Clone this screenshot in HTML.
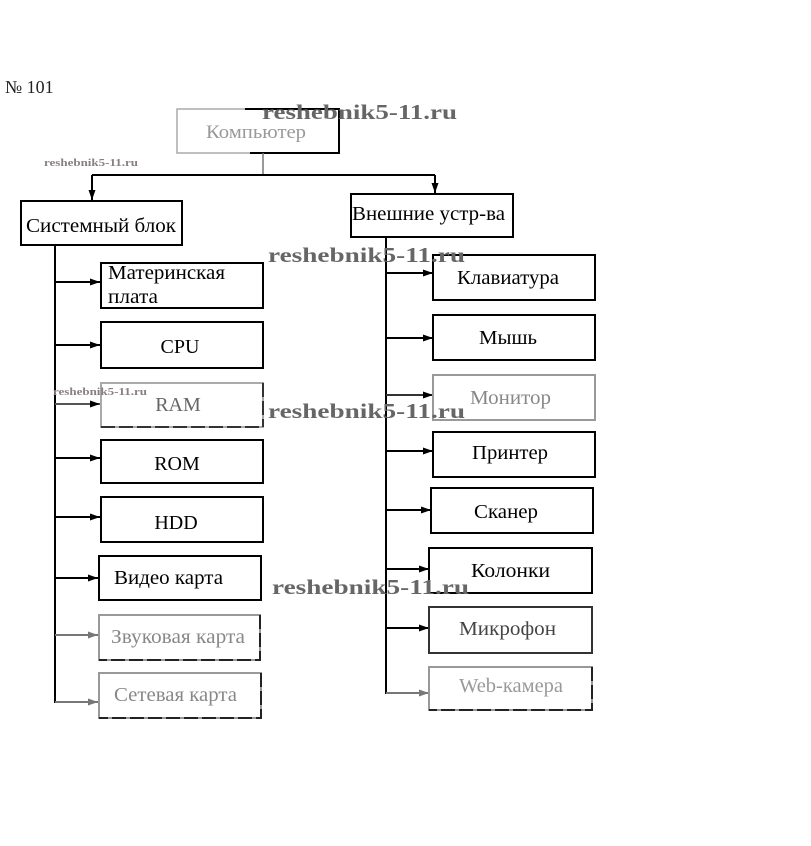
<!DOCTYPE html>
<html><head><meta charset="utf-8"><style>
html,body{margin:0;padding:0;background:#fff;}
svg{display:block;}
text{font-family:"Liberation Serif","DejaVu Serif",serif;}
</style></head><body>
<svg width="811" height="846" viewBox="0 0 811 846" xmlns="http://www.w3.org/2000/svg">
<defs>
<marker id="a" markerWidth="10" markerHeight="8" refX="10" refY="4" orient="auto" markerUnits="userSpaceOnUse">
<path d="M0,0.5 L10,4 L0,7.5 z" fill="#000"/></marker>
<marker id="ag" markerWidth="10" markerHeight="8" refX="10" refY="4" orient="auto" markerUnits="userSpaceOnUse">
<path d="M0,0.5 L10,4 L0,7.5 z" fill="#777"/></marker>
</defs>
<rect width="811" height="846" fill="#fff"/>
<text x="5" y="93" font-size="18" fill="#222">№ 101</text>

<!-- Computer box -->
<rect x="177" y="109" width="162" height="44" fill="none" stroke="#aaa" stroke-width="1.5"/>
<path d="M245 109 H339 V153 H250" fill="none" stroke="#000" stroke-width="2"/>
<text x="206" y="138" font-size="19" fill="#999" textLength="100" lengthAdjust="spacingAndGlyphs">Компьютер</text>
<line x1="263" y1="153" x2="263" y2="175" stroke="#777" stroke-width="1.5"/>
<line x1="92" y1="175" x2="435" y2="175" stroke="#000" stroke-width="2"/>
<line x1="92" y1="175" x2="92" y2="200" stroke="#000" stroke-width="2" marker-end="url(#a)"/>
<line x1="435" y1="175" x2="435" y2="193" stroke="#000" stroke-width="2" marker-end="url(#a)"/>

<!-- Top level boxes -->
<rect x="21" y="201" width="161" height="44" fill="#fff" stroke="#000" stroke-width="2"/>
<text x="26" y="232" font-size="20" textLength="150" lengthAdjust="spacingAndGlyphs">Системный блок</text>
<rect x="351" y="194" width="162" height="43" fill="#fff" stroke="#000" stroke-width="2"/>
<text x="352" y="220" font-size="20" textLength="153" lengthAdjust="spacingAndGlyphs">Внешние устр-ва</text>

<!-- Left trunk -->
<line x1="55" y1="245" x2="55" y2="703" stroke="#000" stroke-width="2"/>
<g stroke-width="2">
<line x1="55" y1="282" x2="100" y2="282" stroke="#000" marker-end="url(#a)"/>
<line x1="55" y1="345" x2="100" y2="345" stroke="#000" marker-end="url(#a)"/>
<line x1="55" y1="404" x2="100" y2="404" stroke="#555" marker-end="url(#a)"/>
<line x1="55" y1="458" x2="100" y2="458" stroke="#000" marker-end="url(#a)"/>
<line x1="55" y1="517" x2="100" y2="517" stroke="#000" marker-end="url(#a)"/>
<line x1="55" y1="578" x2="98" y2="578" stroke="#000" marker-end="url(#a)"/>
<line x1="55" y1="635" x2="98" y2="635" stroke="#777" marker-end="url(#ag)"/>
<line x1="55" y1="702" x2="98" y2="702" stroke="#777" marker-end="url(#ag)"/>
</g>
<g fill="none" stroke-width="2">
<rect x="101" y="263" width="162" height="45" stroke="#000"/>
<rect x="101" y="322" width="162" height="46" stroke="#000"/>
<rect x="101" y="383" width="162" height="44" stroke="#aaa"/>
<rect x="101" y="440" width="162" height="43" stroke="#000"/>
<rect x="101" y="497" width="162" height="45" stroke="#000"/>
<rect x="99" y="556" width="162" height="44" stroke="#000"/>
<rect x="99" y="615" width="161" height="45" stroke="#999"/>
<rect x="99" y="673" width="162" height="45" stroke="#999"/>
</g>
<path d="M263 383 V427 M101 427 H263" stroke="#333" stroke-width="2" stroke-dasharray="14 4" fill="none"/>
<path d="M260 615 V660 H99" stroke="#222" stroke-width="2" stroke-dasharray="14 4" fill="none"/>
<path d="M261 673 V718 H99" stroke="#222" stroke-width="2" stroke-dasharray="14 4" fill="none"/>

<g font-size="20">
<text x="108" y="279" textLength="117" lengthAdjust="spacingAndGlyphs">Материнская</text>
<text x="108" y="303" textLength="50" lengthAdjust="spacingAndGlyphs">плата</text>
<text x="180" y="353" text-anchor="middle">CPU</text>
<text x="178" y="411" text-anchor="middle" fill="#666">RAM</text>
<text x="177" y="470" text-anchor="middle">ROM</text>
<text x="176" y="529" text-anchor="middle">HDD</text>
<text x="114" y="584" textLength="109" lengthAdjust="spacingAndGlyphs">Видео карта</text>
<text x="111" y="643" fill="#888" textLength="134" lengthAdjust="spacingAndGlyphs">Звуковая карта</text>
<text x="114" y="701" fill="#888" textLength="123" lengthAdjust="spacingAndGlyphs">Сетевая карта</text>
</g>

<!-- Right trunk -->
<line x1="386" y1="237" x2="386" y2="694" stroke="#000" stroke-width="2"/>
<g stroke-width="2">
<line x1="386" y1="273" x2="433" y2="273" stroke="#000" marker-end="url(#a)"/>
<line x1="386" y1="338" x2="433" y2="338" stroke="#000" marker-end="url(#a)"/>
<line x1="386" y1="395" x2="433" y2="395" stroke="#333" marker-end="url(#a)"/>
<line x1="386" y1="451" x2="433" y2="451" stroke="#000" marker-end="url(#a)"/>
<line x1="386" y1="510" x2="431" y2="510" stroke="#000" marker-end="url(#a)"/>
<line x1="386" y1="569" x2="429" y2="569" stroke="#000" marker-end="url(#a)"/>
<line x1="386" y1="628" x2="429" y2="628" stroke="#000" marker-end="url(#a)"/>
<line x1="386" y1="693" x2="429" y2="693" stroke="#777" marker-end="url(#ag)"/>
</g>
<g fill="none" stroke-width="2">
<rect x="433" y="255" width="162" height="45" stroke="#000"/>
<rect x="433" y="315" width="162" height="45" stroke="#000"/>
<rect x="433" y="375" width="162" height="45" stroke="#999"/>
<rect x="433" y="432" width="162" height="45" stroke="#000"/>
<rect x="431" y="488" width="162" height="45" stroke="#000"/>
<rect x="429" y="548" width="163" height="45" stroke="#000"/>
<rect x="429" y="607" width="163" height="46" stroke="#333"/>
<rect x="429" y="667" width="163" height="43" stroke="#999"/>
</g>
<path d="M592 667 V710 H429" stroke="#222" stroke-width="2" stroke-dasharray="14 4" fill="none"/>
<g font-size="20">
<text x="457" y="284" textLength="102" lengthAdjust="spacingAndGlyphs">Клавиатура</text>
<text x="479" y="344" textLength="58" lengthAdjust="spacingAndGlyphs">Мышь</text>
<text x="470" y="404" fill="#888" textLength="81" lengthAdjust="spacingAndGlyphs">Монитор</text>
<text x="472" y="459" textLength="76" lengthAdjust="spacingAndGlyphs">Принтер</text>
<text x="474" y="518" textLength="64" lengthAdjust="spacingAndGlyphs">Сканер</text>
<text x="471" y="577" textLength="79" lengthAdjust="spacingAndGlyphs">Колонки</text>
<text x="459" y="635" fill="#444" textLength="97" lengthAdjust="spacingAndGlyphs">Микрофон</text>
<text x="459" y="692" fill="#999" textLength="104" lengthAdjust="spacingAndGlyphs">Web-камера</text>
</g>

<!-- Watermarks -->
<g font-weight="bold" fill="#666">
<text x="262" y="119" font-size="21" textLength="195" lengthAdjust="spacingAndGlyphs">reshebnik5-11.ru</text>
<text x="268" y="262" font-size="21" textLength="197" lengthAdjust="spacingAndGlyphs">reshebnik5-11.ru</text>
<text x="268" y="418" font-size="21" textLength="197" lengthAdjust="spacingAndGlyphs">reshebnik5-11.ru</text>
<text x="272" y="594" font-size="21" textLength="197" lengthAdjust="spacingAndGlyphs">reshebnik5-11.ru</text>
<text x="44" y="166" font-size="11" fill="#8a7f80" textLength="94" lengthAdjust="spacingAndGlyphs">reshebnik5-11.ru</text>
<text x="53" y="395" font-size="11" fill="#8a7f80" textLength="94" lengthAdjust="spacingAndGlyphs">reshebnik5-11.ru</text>
</g>
</svg>
</body></html>
